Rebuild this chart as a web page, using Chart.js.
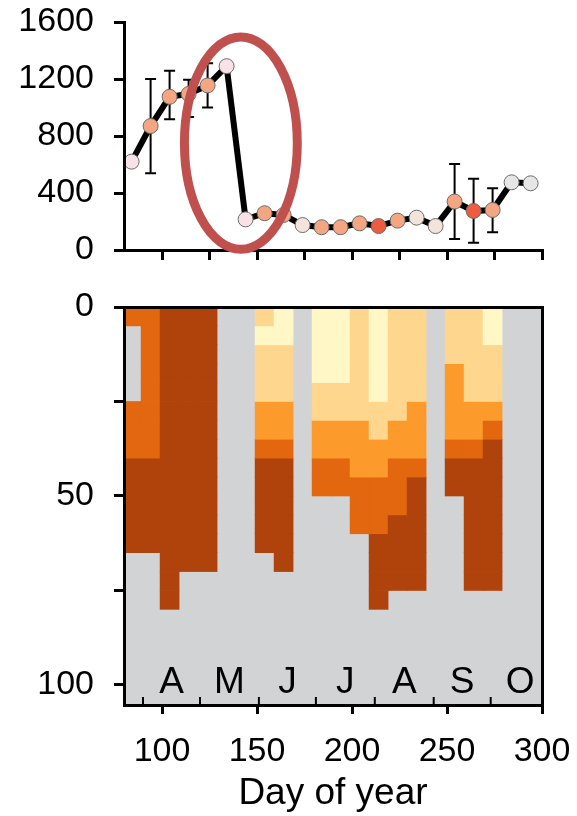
<!DOCTYPE html>
<html>
<head>
<meta charset="utf-8">
<title>Day of year</title>
<script src="https://cdn.jsdelivr.net/npm/chart.js@4.4.0/dist/chart.umd.min.js"></script>
<style>
    html, body { margin: 0; padding: 0; background: #fff; overflow: hidden; }
    #wrap { position: relative; width: 577px; height: 816px; }
    #top-box { position: absolute; left: 0; top: 0; width: 577px; height: 275px; }
    #bottom-box { position: absolute; left: 0; top: 280px; width: 577px; height: 536px; }
</style>
</head>
<body>
<div id="wrap">
    <div id="top-box"><canvas id="chart-top"></canvas></div>
    <div id="bottom-box"><canvas id="chart-bottom"></canvas></div>
</div>
<script>
// sampling days (day of year)
const sampleDays = [84, 94, 104, 114, 124, 134, 144, 154, 164, 174, 184, 194, 204, 214, 224, 234, 244, 254, 264, 274, 284, 294];

// top panel: mean value and error bar ends (null = no bar)
const abundance = [620, 870, 1075, 1095, 1155, 1290, 215, 258, 246, 175, 160, 160, 187, 168, 206, 227, 168, 340, 274, 281, 475, 468];
const errHigh = [null, 1200, 1258, 1195, 1310, null, null, null, null, null, null, null, null, null, null, null, null, 604, 500, 433, null, null];
const errLow = [null, 538, 917, 933, 1000, null, null, null, null, null, null, null, null, null, null, null, null, 77, 51, 124, null, null];
// marker shade class per sample (0 grey, 1 pale pink, 2 cream, 3 salmon, 4 red)
const pointTones = [1, 3, 3, 3, 3, 1, 1, 3, 3, 2, 3, 3, 3, 4, 3, 2, 2, 3, 4, 3, 0, 0];

const topTickDays = [100, 125, 150, 175, 200, 225, 250, 275, 300];
const abundanceTicks = [0, 400, 800, 1200, 1600];

// bottom panel: class per 5 m depth layer (0-5, 5-10, ... 75-80), one string per sample day
// 0 no data, 1 .. 5 light to dark
const depthBins = [0, 5, 10, 15, 20, 25, 30, 35, 40, 45, 50, 55, 60, 65, 70, 75, 80];
const profiles = [
    '4000044455555000', // 84
    '4444444455555000', // 94
    '5555555555555555', // 104
    '5555555555555500', // 114
    '5555555555555500', // 124
    '0000000000000000', // 134
    '0000000000000000', // 144
    '2122233455555000', // 154
    '1122233455555500', // 164
    '0000000000000000', // 174
    '1111223344000000', // 184
    '1111223344000000', // 194
    '2222223334440000', // 204
    '1111122334445555', // 214
    '2222223344455550', // 224
    '2222233345555550', // 234
    '0000000000000000', // 244
    '2223333455000000', // 254
    '2222233455555550', // 264
    '1122234555555550', // 274
    '0000000000000000', // 284
    '0000000000000000'  // 294
];

const dayTicks = [100, 150, 200, 250, 300];
const depthTicks = [0, 25, 50, 75, 100];
const depthLabels = [0, 50, 100];
const monthEdges = [90, 120, 151, 181, 212, 243, 273];
const monthMids = [105, 135.5, 166, 196.5, 227.5, 258, 288.5];
const monthLetters = ['A', 'M', 'J', 'J', 'A', 'S', 'O'];

// highlighted region (data units)
const highlight = { day: 141.5, value: 750, dayRadius: 29.7, valueRadius: 745 };

const tonePalette = ['#e6e6e6', '#f8e1e7', '#f2e4da', '#f4a582', '#ef5b3f'];
const cellPalette = [null, '#fff8c6', '#fed68e', '#fc9a2b', '#e2670f', '#b0420b'];
const FAMILY = '"Liberation Sans", Arial, sans-serif';
const FONT = { family: FAMILY, size: 34 };
const TITLE_FONT = { family: FAMILY, size: 37 };

const qs = s => document.querySelector(s);

const axisGrid = { drawOnChartArea: false, offset: false, tickLength: 10, lineWidth: 3, color: '#000' };
const axisBorder = { color: '#000', width: 3, z: 1 };

// pin an axis size and drop the label overhang padding
const pinWidth = w => s => { s.width = w; s.paddingTop = 0; s.paddingBottom = 0; };
const pinHeight = h => s => { s.height = h; s.paddingLeft = 0; s.paddingRight = 0; };

const errorBars = {
    id: 'errorBars',
    beforeDatasetsDraw(chart) {
        const { ctx, scales: { x, y } } = chart;
        ctx.save();
        ctx.strokeStyle = '#000';
        ctx.lineWidth = 2;
        sampleDays.forEach((d, i) => {
            if (errHigh[i] == null) return;
            const px = x.getPixelForValue(d);
            const top = y.getPixelForValue(errHigh[i]);
            const bot = y.getPixelForValue(errLow[i]);
            ctx.beginPath();
            ctx.moveTo(px, top); ctx.lineTo(px, bot);
            ctx.moveTo(px - 5.5, top); ctx.lineTo(px + 5.5, top);
            ctx.moveTo(px - 5.5, bot); ctx.lineTo(px + 5.5, bot);
            ctx.stroke();
        });
        ctx.restore();
    }
};

const highlightRing = {
    id: 'highlightRing',
    afterDraw(chart) {
        const { ctx, scales: { x, y } } = chart;
        const cx = x.getPixelForValue(highlight.day);
        const cy = y.getPixelForValue(highlight.value);
        const rx = x.getPixelForValue(highlight.day + highlight.dayRadius) - cx;
        const ry = cy - y.getPixelForValue(highlight.value + highlight.valueRadius);
        ctx.save();
        ctx.strokeStyle = '#c0504d';
        ctx.lineWidth = 9;
        ctx.beginPath();
        ctx.ellipse(cx, cy, rx, ry, 0, 0, Math.PI * 2);
        ctx.stroke();
        ctx.restore();
    }
};

const greyBackground = {
    id: 'greyBackground',
    beforeDatasetsDraw(chart) {
        const { ctx, chartArea: a } = chart;
        ctx.save();
        ctx.fillStyle = '#d2d3d5';
        ctx.fillRect(a.left, a.top, a.right - a.left, a.bottom - a.top);
        ctx.restore();
    }
};

const monthMarks = {
    id: 'monthMarks',
    afterDatasetsDraw(chart) {
        const { ctx, chartArea: a, scales: { x } } = chart;
        ctx.save();
        ctx.strokeStyle = '#000';
        ctx.lineWidth = 2;
        monthEdges.forEach(d => {
            const px = x.getPixelForValue(d);
            ctx.beginPath();
            ctx.moveTo(px, a.bottom);
            ctx.lineTo(px, a.bottom - 8);
            ctx.stroke();
        });
        ctx.fillStyle = '#000';
        ctx.font = `${TITLE_FONT.size}px ${FAMILY}`;
        ctx.textAlign = 'center';
        ctx.textBaseline = 'alphabetic';
        monthLetters.forEach((m, i) => ctx.fillText(m, x.getPixelForValue(monthMids[i]), a.bottom - 12));
        ctx.restore();
    }
};

new Chart(qs('#chart-top'), {
    type: 'line',
    data: {
        datasets: [{
            data: sampleDays.map((d, i) => ({ x: d, y: abundance[i] })),
            borderColor: '#000',
            borderWidth: 6,
            tension: 0,
            pointRadius: 7.5,
            pointBorderWidth: 1,
            pointBorderColor: '#6b6b6b',
            pointBackgroundColor: pointTones.map(t => tonePalette[t])
        }]
    },
    options: {
        animation: false,
        responsive: true,
        maintainAspectRatio: false,
        layout: { padding: { top: 22, right: 35, bottom: 15, left: 0 } },
        plugins: { legend: { display: false }, tooltip: { enabled: false } },
        scales: {
            x: {
                type: 'linear', min: 80, max: 300,
                afterBuildTicks: s => { s.ticks = topTickDays.map(v => ({ value: v })); },
                afterFit: pinHeight(10),
                ticks: { display: false },
                grid: axisGrid,
                border: axisBorder
            },
            y: {
                min: 0, max: 1600,
                afterBuildTicks: s => { s.ticks = abundanceTicks.map(v => ({ value: v })); },
                afterFit: pinWidth(124),
                ticks: { font: FONT, color: '#000', padding: 20, callback: v => String(v) },
                grid: axisGrid,
                border: axisBorder
            }
        }
    },
    plugins: [errorBars, highlightRing]
});

const layerSets = depthBins.slice(0, -1).map((top, j) => ({
    data: sampleDays.map((d, i) => ({
        x: d,
        y: profiles[i][j] === '0' ? null : [top, depthBins[j + 1]]
    })),
    backgroundColor: profiles.map(p => cellPalette[+p[j]] || 'rgba(0,0,0,0)'),
    borderWidth: 0,
    grouped: false,
    categoryPercentage: 1,
    barPercentage: 1
}));

new Chart(qs('#chart-bottom'), {
    type: 'bar',
    data: { datasets: layerSets },
    options: {
        animation: false,
        responsive: true,
        maintainAspectRatio: false,
        layout: { padding: { top: 27, right: 35, bottom: 0, left: 0 } },
        plugins: { legend: { display: false }, tooltip: { enabled: false } },
        scales: {
            x: {
                type: 'linear', position: 'bottom', min: 80, max: 300, offset: false,
                afterBuildTicks: s => { s.ticks = dayTicks.map(v => ({ value: v })); },
                afterFit: pinHeight(111),
                ticks: { font: FONT, color: '#000', padding: 17, maxRotation: 0, callback: v => String(v) },
                grid: { drawOnChartArea: false, offset: false, tickLength: 9, lineWidth: 3, color: '#000' },
                border: axisBorder,
                title: { display: true, text: 'Day of year', font: TITLE_FONT, color: '#000', padding: { top: 0, bottom: 0 } }
            },
            xTop: {
                type: 'linear', position: 'top', min: 80, max: 300, offset: false,
                afterFit: pinHeight(0),
                ticks: { display: false },
                grid: { display: false, drawTicks: false },
                border: axisBorder
            },
            y: {
                type: 'linear', reverse: true, min: 0, max: 105.3,
                afterBuildTicks: s => { s.ticks = depthTicks.map(v => ({ value: v })); },
                afterFit: pinWidth(124),
                ticks: { font: FONT, color: '#000', padding: 20, callback: v => depthLabels.includes(v) ? String(v) : '' },
                grid: axisGrid,
                border: axisBorder
            },
            yRight: {
                type: 'linear', position: 'right', min: 0, max: 105.3,
                afterFit: pinWidth(0),
                ticks: { display: false },
                grid: { display: false, drawTicks: false },
                border: axisBorder
            }
        }
    },
    plugins: [greyBackground, monthMarks]
});
</script>
</body>
</html>
